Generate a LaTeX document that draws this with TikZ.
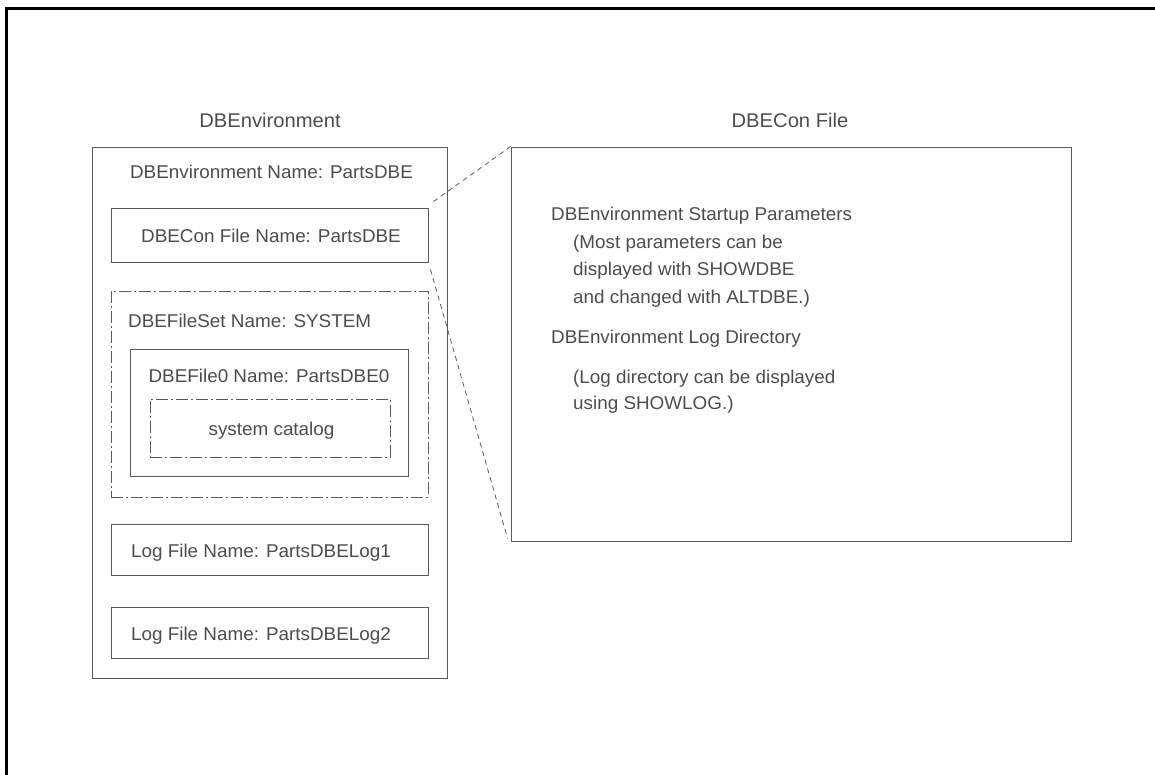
\documentclass[tikz,border=0pt]{standalone}
\usepackage{fontspec}
\setmainfont{Liberation Sans}[FakeStretch=1.02]
\usetikzlibrary{calc}
\begin{document}
\begin{tikzpicture}[x=1pt,y=-1pt,
  box/.style={draw=black!65, line width=0.9pt, inner sep=0pt, rectangle},
  dashdotbox/.style={box, dash pattern=on 12pt off 3pt on 2pt off 3pt},
  lbl/.style={text=black!70, font=\fontsize{18.5}{21}\selectfont, inner sep=0pt, anchor=base},
  lblw/.style={lbl, anchor=base west},
  titlelbl/.style={lbl, font=\fontsize{19.8}{22}\selectfont},
  zoomline/.style={draw=black!65, line width=0.8pt, dash pattern=on 5pt off 4pt}]
\useasboundingbox (0,0) rectangle (1155,775);
% page frame (top and left rules)
\draw[line width=2.8pt] (6.3,775) -- (6.3,8.7) -- (1155,8.7);

% titles
\node[titlelbl] (envtitle) at (270,128) {DBEnvironment};
\node[titlelbl] (contitle) at (790,128) {DBECon File};

% DBEnvironment and its contents
\node[box, minimum width=355pt, minimum height=531pt] (env) at (269.5,412.5) {};
\node[lbl] (envname) at (271.5,179) {DBEnvironment Name: PartsDBE};

\node[box, minimum width=317pt, minimum height=54pt] (con) at (269.5,235) {};
\node[lbl] (conname) at (271,243) {DBECon File Name: PartsDBE};

\node[dashdotbox, minimum width=317pt, minimum height=206pt] (fset) at (269.5,394) {};
\node[lblw] (fsetname) at (128,327) {DBEFileSet Name: SYSTEM};

\node[box, minimum width=278pt, minimum height=127pt] (file0) at (269,412.5) {};
\node[lbl] (file0name) at (269,382) {DBEFile0 Name: PartsDBE0};

\node[dashdotbox, minimum width=240pt, minimum height=58pt] (cat) at (270,428) {};
\node[lbl] (catname) at (271.5,435) {system catalog};

\node[box, minimum width=317pt, minimum height=51pt] (log1) at (269.5,549.5) {};
\node[lbl] (log1name) at (261,557) {Log File Name: PartsDBELog1};

\node[box, minimum width=317pt, minimum height=51pt] (log2) at (269.5,632.5) {};
\node[lbl] (log2name) at (261,640) {Log File Name: PartsDBELog2};

% DBECon file contents
\node[box, minimum width=560pt, minimum height=394pt] (conf) at (791,344) {};
\node[lblw] (startup) at (551,221) {DBEnvironment Startup Parameters};
\node[lblw] (st1) at (573,249) {(Most parameters can be};
\node[lblw] (st2) at (573,276) {displayed with SHOWDBE};
\node[lblw] (st3) at (573,303) {and changed with ALTDBE.)};
\node[lblw] (logdir) at (551,343) {DBEnvironment Log Directory};
\node[lblw] (ld1) at (573,383) {(Log directory can be displayed};
\node[lblw] (ld2) at (573,409) {using SHOWLOG.)};

% expansion lines from the DBECon file box
\draw[zoomline] ($(con.north east)+(5,-6)$) -- (conf.north west);
\draw[zoomline] ($(con.south east)+(2,7)$) -- ($(conf.south west)+(-3,-3)$);
\end{tikzpicture}
\end{document}
